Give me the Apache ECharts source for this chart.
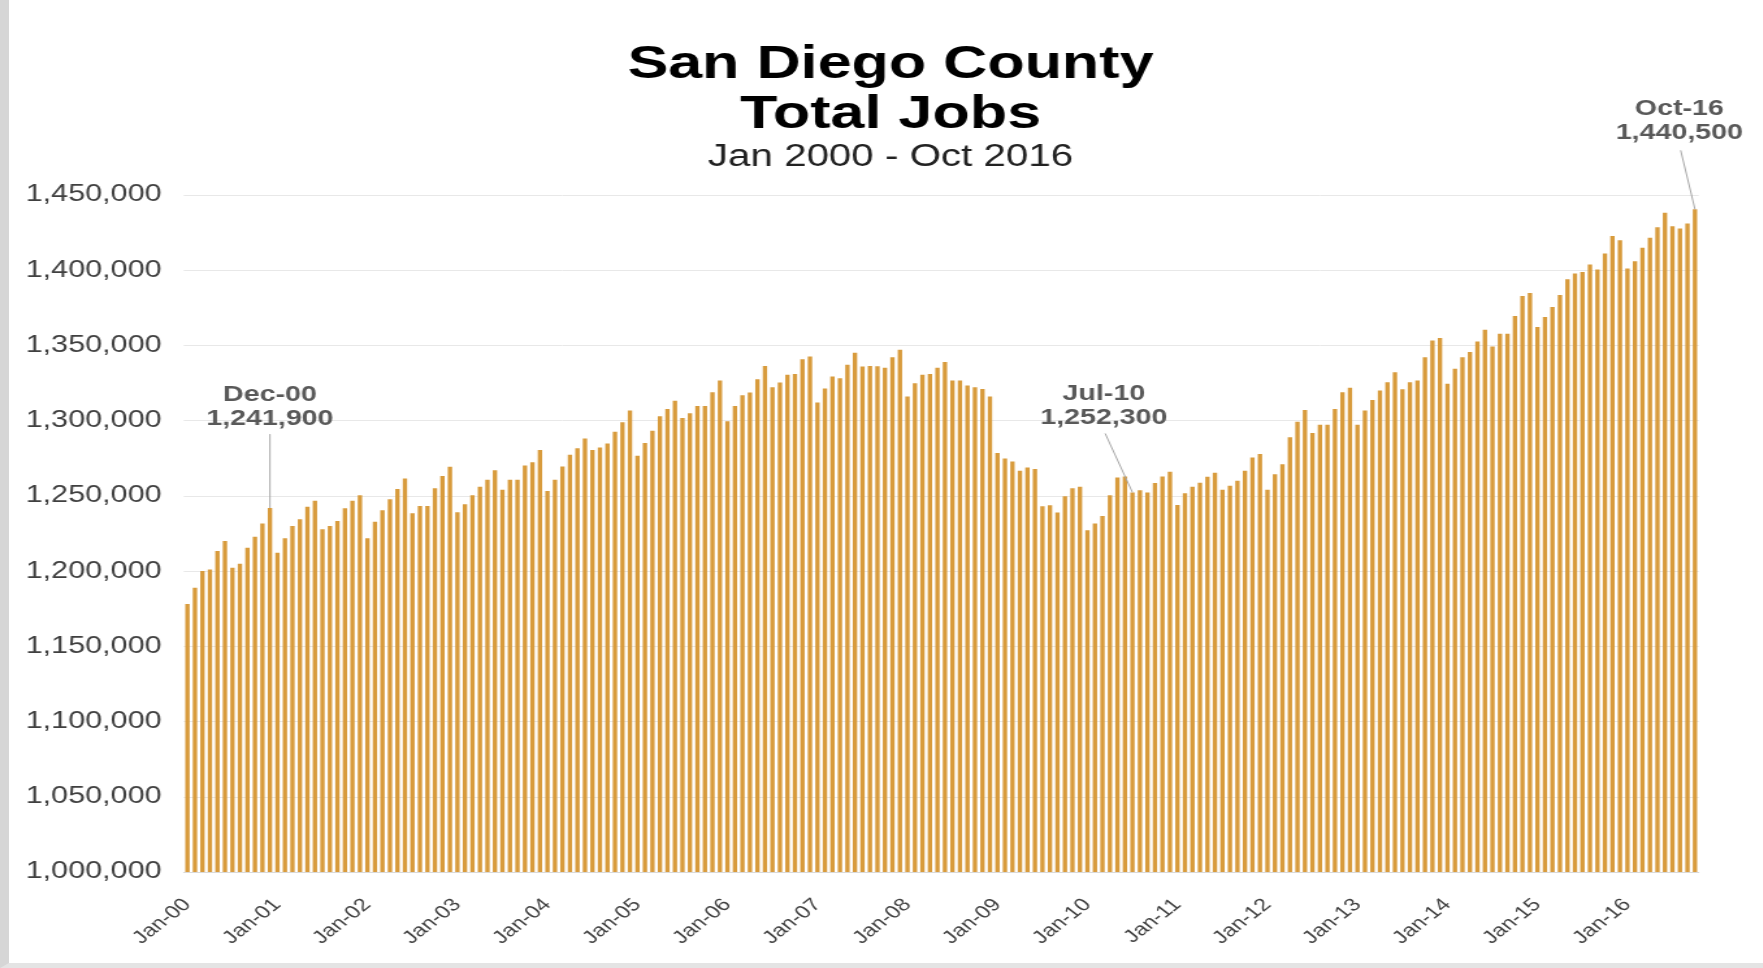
<!DOCTYPE html>
<html>
<head>
<meta charset="utf-8">
<title>San Diego County Total Jobs</title>
<script src="https://cdn.jsdelivr.net/npm/echarts@6/dist/echarts.min.js"></script>
<style>
  html, body { margin: 0; padding: 0; background: #fff; overflow: hidden; }
  #frame {
    position: absolute; left: 0; top: 0; width: 1763px; height: 968px;
    box-sizing: border-box; border-left: 9px solid #d6d6d6; border-bottom: 5px solid #e4e4e4;
  }
  /* the reference is stretched horizontally, so draw narrow and stretch */
  #chart { position: absolute; left: 0; top: 0; width: 1356px; height: 968px; transform: scaleX(1.3); transform-origin: 0 0; }
</style>
</head>
<body>
<div id="frame"></div>
<div id="chart"></div>
<script>
const monthNames = ["Jan", "Feb", "Mar", "Apr", "May", "Jun", "Jul", "Aug", "Sep", "Oct", "Nov", "Dec"];

// total jobs by month
const jobs2000 = [1178200, 1188900, 1200000, 1201100, 1213300, 1220000, 1202200, 1204900, 1215600, 1222900, 1231600, 1241900];
const jobs2001 = [1212200, 1221800, 1230000, 1234400, 1242700, 1246700, 1227800, 1230000, 1233300, 1241800, 1246700, 1250500];
const jobs2002 = [1221800, 1232800, 1240500, 1247800, 1254500, 1261600, 1238500, 1243300, 1243300, 1255100, 1263300, 1269300];
const jobs2003 = [1239100, 1244500, 1250500, 1256000, 1260700, 1267100, 1254000, 1260700, 1260700, 1270200, 1272400, 1280500];
const jobs2004 = [1253300, 1260700, 1269500, 1277300, 1281600, 1288200, 1280500, 1282200, 1284900, 1292700, 1298900, 1306700];
const jobs2005 = [1276700, 1285100, 1293300, 1302900, 1307800, 1313300, 1301800, 1304900, 1309800, 1309800, 1318900, 1326700];
const jobs2006 = [1299600, 1309800, 1316900, 1318800, 1327600, 1336400, 1322200, 1325300, 1330500, 1331100, 1340900, 1342700];
const jobs2007 = [1312000, 1321300, 1329300, 1328200, 1337100, 1345100, 1336000, 1336400, 1336200, 1335100, 1342200, 1347100];
const jobs2008 = [1316000, 1324900, 1330500, 1331100, 1335100, 1339000, 1326700, 1326700, 1323300, 1322200, 1321100, 1316000];
const jobs2009 = [1278500, 1274900, 1272900, 1266700, 1268900, 1267800, 1243100, 1243800, 1238900, 1249800, 1255100, 1256000];
const jobs2010 = [1227100, 1231600, 1236700, 1250500, 1262200, 1262900, 1252300, 1253800, 1252200, 1258500, 1262900, 1266000];
const jobs2011 = [1244000, 1251800, 1256000, 1258700, 1262700, 1265300, 1254000, 1256700, 1260000, 1266700, 1275600, 1277800];
const jobs2012 = [1254000, 1264400, 1271100, 1288900, 1299300, 1307100, 1291800, 1297300, 1297300, 1307800, 1318900, 1321800];
const jobs2013 = [1297300, 1306700, 1313800, 1320000, 1325600, 1332200, 1320900, 1325600, 1326700, 1342200, 1353300, 1354900];
const jobs2014 = [1324500, 1334500, 1342200, 1345600, 1352700, 1360400, 1349300, 1357800, 1357800, 1369600, 1382900, 1384900];
const jobs2015 = [1362200, 1368900, 1375600, 1383600, 1394000, 1397800, 1398900, 1403800, 1400500, 1411100, 1422700, 1420000];
const jobs2016 = [1401100, 1406000, 1414900, 1421600, 1428500, 1438200, 1429300, 1427800, 1431100, 1440500];

const years = [2000, 2001, 2002, 2003, 2004, 2005, 2006, 2007, 2008, 2009, 2010, 2011, 2012, 2013, 2014, 2015, 2016];
const yearly = [jobs2000, jobs2001, jobs2002, jobs2003, jobs2004, jobs2005, jobs2006, jobs2007, jobs2008,
                jobs2009, jobs2010, jobs2011, jobs2012, jobs2013, jobs2014, jobs2015, jobs2016];

// labelled months
const callouts = ["Dec-00", "Jul-10", "Oct-16"];

const months = [];
const jobs = [];
yearly.forEach((vals, i) => {
  vals.forEach((v, m) => {
    months.push(monthNames[m] + "-" + String(years[i]).slice(2));
    jobs.push(v);
  });
});

// callout placement relative to the bar top (px, before stretch)
const calloutLayout = {
  "Dec-00": { tx: 0, ty: -89, lx: 0, ly: -74 },
  "Jul-10": { tx: -22, ty: -74, lx: -21, ly: -59 },
  "Oct-16": { tx: -12, ty: -76, lx: -11, ly: -59 }
};

const fmt = (v) => v.toLocaleString("en-US");

const chart = echarts.init(document.getElementById("chart"));

chart.setOption({
  backgroundColor: "transparent",
  animation: false,
  title: [
    {
      text: "San Diego County\nTotal Jobs",
      left: 680,
      top: 35,
      textAlign: "center",
      textStyle: { fontFamily: "Liberation Sans, Arial", fontSize: 47, fontWeight: "bold", color: "#000", lineHeight: 50 }
    },
    {
      text: "Jan 2000 - Oct 2016",
      left: 680,
      top: 135,
      textAlign: "center",
      textStyle: { fontFamily: "Liberation Sans, Arial", fontSize: 31, fontWeight: "normal", color: "#222", lineHeight: 34 }
    }
  ],
  grid: { left: 141.3, right: 49.3, top: 195, bottom: 96 },
  xAxis: {
    type: "category",
    data: months,
    axisTick: { show: false },
    axisLine: { show: true, lineStyle: { color: "#d9d9d9" } },
    axisLabel: {
      interval: 11,
      rotate: 45,
      margin: 30,
      fontFamily: "Liberation Sans, Arial",
      fontSize: 18,
      color: "#404040"
    }
  },
  yAxis: {
    type: "value",
    min: 1000000,
    max: 1450000,
    interval: 50000,
    axisLine: { show: false },
    axisTick: { show: false },
    splitLine: { lineStyle: { color: "#e8e8e8" } },
    axisLabel: {
      formatter: fmt,
      margin: 17,
      fontFamily: "Liberation Sans, Arial",
      fontSize: 23.5,
      color: "#404040"
    }
  },
  series: [
    {
      name: "Total Jobs",
      type: "bar",
      data: jobs,
      barCategoryGap: "42%",
      itemStyle: { color: "#D89B3C" }
    },
    {
      name: "Callouts",
      type: "custom",
      clip: false,
      z: 5,
      data: callouts.map((c) => [months.indexOf(c), jobs[months.indexOf(c)]]),
      renderItem: function (params, api) {
        const idx = api.value(0);
        const val = api.value(1);
        const p = api.coord([idx, val]);
        const lay = calloutLayout[months[idx]];
        return {
          type: "group",
          children: [
            {
              type: "line",
              shape: { x1: p[0] + lay.lx, y1: p[1] + lay.ly, x2: p[0], y2: p[1] },
              style: { stroke: "#a6a6a6", lineWidth: 1 }
            },
            {
              type: "text",
              x: p[0] + lay.tx,
              y: p[1] + lay.ty + 12,
              style: {
                text: months[idx] + "\n" + fmt(val),
                align: "center",
                verticalAlign: "bottom",
                font: "bold 22px 'Liberation Sans', Arial",
                lineHeight: 24,
                fill: "#595959"
              }
            }
          ]
        };
      }
    }
  ]
});
</script>
</body>
</html>
